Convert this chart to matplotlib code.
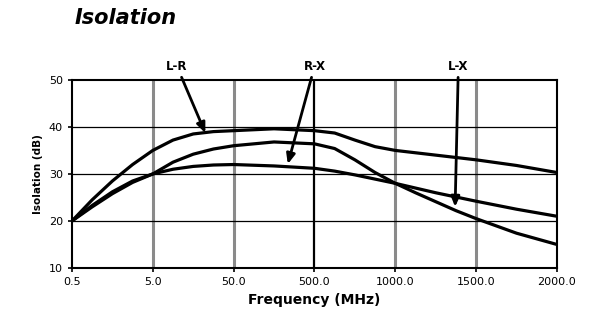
import matplotlib
matplotlib.use("Agg")
import matplotlib.pyplot as plt

plt.rcParams['font.family'] = ['DejaVu Sans']

tick_labels = ["0.5", "5.0", "50.0", "500.0", "1000.0", "1500.0", "2000.0"]
x_pos = [0, 0.25, 0.5, 0.75, 1, 1.25, 1.5, 1.75, 2, 2.5, 3, 3.25, 3.5, 3.75, 4, 4.25, 4.5, 4.75, 5, 5.5, 6]
lr = [20, 24.5, 28.5, 32, 35, 37.2, 38.5, 39.0, 39.2, 39.6, 39.2, 38.7, 37.2, 35.8, 35, 34.5, 34, 33.5, 33, 31.8, 30.3]
lx = [20, 23.3, 26.2, 28.5, 30, 32.5, 34.2, 35.3, 36, 36.8, 36.4, 35.4, 33, 30.3, 28, 26, 24.1, 22.2, 20.5, 17.4, 15]
rx = [20, 23.0, 25.8, 28.2, 30, 31.0, 31.6, 31.9, 32, 31.7, 31.2, 30.6, 29.8, 28.9, 28, 27, 26, 25.1, 24.2, 22.5, 21]

fig = plt.figure(figsize=(5.9, 3.12), dpi=100)
ax = fig.add_axes([0.122, 0.141, 0.822, 0.603])

ax.set_xlim(0, 6)
ax.set_ylim(10, 50)
for i in range(1, 6):
    if i == 3:
        ax.axvline(i, color="black", lw=1.6, zorder=1)
    else:
        ax.axvline(i, color="#8a8a8a", lw=2.2, zorder=1)
for y in [20, 30, 40]:
    ax.axhline(y, color="black", lw=0.9, zorder=1)

for ys in (lr, lx, rx):
    ax.plot(x_pos, ys, color="black", lw=2.3, zorder=3, solid_capstyle="round")

ax.set_xticks(range(len(tick_labels)))
ax.set_xticklabels(tick_labels)
ax.set_yticks([10, 20, 30, 40, 50])
ax.tick_params(axis="both", labelsize=8, length=3, width=1.2, direction="out")
for s in ax.spines.values():
    s.set_linewidth(1.5)

ax.set_ylabel("Isolation (dB)", fontsize=7.5, fontweight="bold")
ax.set_xlabel("Frequency (MHz)", fontsize=10, fontweight="bold", labelpad=4)

arrowprops = dict(arrowstyle="-|>,head_length=0.7,head_width=0.3", color="black", lw=2.0, shrinkA=1, shrinkB=0)
ax.annotate("L-R", xy=(1.65, 38.7), xytext=(1.30, 52.8), textcoords="data", ha="center", va="center",
            fontsize=8.5, fontweight="bold", arrowprops=arrowprops, annotation_clip=False)
ax.annotate("R-X", xy=(2.67, 32.1), xytext=(3.00, 52.8), textcoords="data", ha="center", va="center",
            fontsize=8.5, fontweight="bold", arrowprops=arrowprops, annotation_clip=False)
ax.annotate("L-X", xy=(4.74, 23.0), xytext=(4.78, 52.8), textcoords="data", ha="center", va="center",
            fontsize=8.5, fontweight="bold", arrowprops=arrowprops, annotation_clip=False)

fig.text(0.127, 0.942, "Isolation", fontsize=15, fontweight="bold", fontstyle="italic", va="center", ha="left")

fig.savefig("out.png", dpi=100)
